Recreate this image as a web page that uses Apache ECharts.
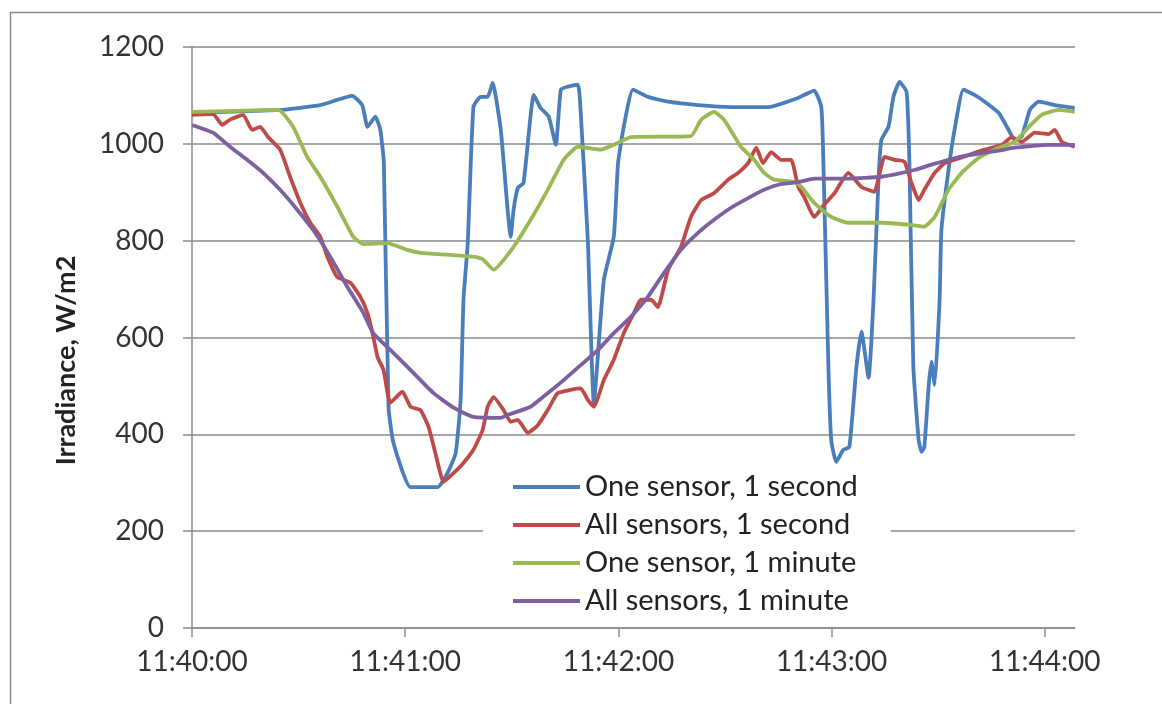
<!DOCTYPE html>
<html>
<head>
<meta charset="utf-8">
<script src="https://cdn.jsdelivr.net/npm/echarts@6/dist/echarts.min.js"></script>
<style>
html,body{margin:0;padding:0;background:#fff;}
#main{width:1162px;height:704px;}
</style>
</head>
<body>
<div id="main"></div>
<script>
// seconds after 11:40:00, and irradiance values (W/m2)
var seriesNames = ['One sensor, 1 second', 'All sensors, 1 second', 'One sensor, 1 minute', 'All sensors, 1 minute'];
var xTicks = [0, 60, 120, 180, 240];
var xTickLabels = ['11:40:00', '11:41:00', '11:42:00', '11:43:00', '11:44:00'];

var oneSecT = [0,24.8,36.1,45.1,47.9,49.4,51.6,53.0,54.0,55.3,56.7,61.5,69.1,71.9,74.2,75.6,76.4,77.6,79.2,81.2,83.2,84.6,86.9,89.7,90.5,91.7,93.3,96.2,98.1,100.4,102.4,103.8,105.8,108.6,109.4,111.4,113.1,115.9,118.7,119.9,121.5,124.1,128.3,134.0,142.4,151.7,162.2,170.6,175.1,177.1,177.7,179.1,179.9,181.3,183.3,185.0,187.0,188.4,190.4,191.8,193.2,194.0,196.0,197.4,199.1,201.1,201.9,203.0,204.5,205.3,206.1,207.3,208.1,209.0,210.4,210.9,212.9,214.6,217.1,220.2,223.1,227.0,229.8,231.5,233.5,235.8,238.3,242.8,248.4];
var oneSecV = [1064,1070,1080,1099,1080,1035,1056,1029,960,457,382,291,291,320,361,471,678,795,1076,1097,1097,1126,1029,808,864,909,919,1101,1074,1056,998,1112,1118,1122,1064,800,465,719,808,960,1035,1112,1097,1087,1080,1076,1076,1095,1110,1076,960,540,388,343,368,374,540,612,517,678,926,1008,1035,1097,1128,1107,960,540,388,364,374,498,550,502,678,822,946,1029,1112,1101,1087,1064,1029,1008,1015,1070,1087,1080,1074];

var allSecT = [0,5.9,8.5,10.7,14.4,16.9,19.2,21.4,24.8,27.6,30.5,33.3,36.1,38.1,40.9,44.6,47.4,49.4,50.8,52.2,53.9,55.8,59.2,61.5,64.3,66.6,68.5,70.8,73.6,76.4,79.2,81.8,83.2,84.9,87.7,89.7,91.7,94.5,97.3,100.1,102.9,106.6,109.4,111.4,113.1,115.9,118.7,121.5,124.4,126.3,129.2,131.1,134.0,137.6,140.4,143.3,146.9,150.9,153.7,156.5,158.8,160.7,163.0,165.8,168.6,170.6,172.3,175.1,177.9,180.8,184.7,188.4,192.0,194.9,197.7,200.5,202.5,204.5,206.1,209.0,211.8,214.6,218.6,223.1,227.9,230.7,233.5,237.2,241.1,242.8,244.8,248.4];
var allSecV = [1060,1062,1039,1050,1060,1029,1035,1014,988,932,878,837,808,767,725,713,684,650,609,560,533,465,488,457,450,415,361,302,320,341,368,409,457,477,450,426,430,403,419,450,485,492,495,471,457,512,554,609,651,678,678,663,740,787,849,884,898,926,940,960,992,960,983,967,967,911,890,849,874,898,940,911,901,973,967,963,919,884,905,940,960,967,977,988,998,1014,1004,1023,1020,1029,1004,994];

var oneMinT = [0,24.3,28.5,32.4,36.1,40.9,45.4,48.2,55.0,60.6,64.3,71.9,79.2,81.8,84.9,90.5,95.3,100.1,104.6,108.6,115.1,119.9,123.5,140.4,143.3,146.9,149.7,154.5,158.2,161.0,163.8,169.5,171.5,175.1,179.9,184.7,194.0,201.6,206.1,209.0,212.9,216.6,221.4,227.0,231.5,235.5,239.1,243.9,248.4];
var oneMinV = [1066,1070,1035,973,932,870,808,793,795,781,775,771,767,762,740,787,843,905,967,994,988,1002,1014,1016,1050,1066,1050,994,967,940,926,921,911,878,849,837,837,833,829,849,905,940,971,992,1004,1035,1060,1070,1066];

var allMinT = [0,5.9,10.7,15.5,20.0,24.8,29.6,34.1,38.9,43.7,48.2,51.0,56.7,62.3,68.0,73.6,79.2,86.9,88.8,95.3,100.1,104.6,109.4,114.2,118.7,123.5,128.3,132.8,137.6,142.4,146.9,151.7,156.5,161.0,165.8,170.6,175.1,184.7,194.0,203.3,208.1,212.9,217.4,222.2,227.0,231.5,241.1,248.4];
var allMinV = [1039,1023,994,967,940,905,864,822,767,705,651,609,568,527,485,455,436,434,440,457,485,512,543,574,609,643,684,733,781,816,843,868,888,905,917,921,928,928,932,946,957,967,975,981,986,992,998,998];

var colors = ['#4a7ebb', '#be4b48', '#98b954', '#7d60a0'];

function pairs(t, v) {
    var out = [];
    for (var i = 0; i < t.length; i++) {
        out.push([t[i], v[i]]);
    }
    return out;
}

var allData = [pairs(oneSecT, oneSecV), pairs(allSecT, allSecV), pairs(oneMinT, oneMinV), pairs(allMinT, allMinV)];

var series = [];
for (var i = 0; i < seriesNames.length; i++) {
    series.push({
        name: seriesNames[i],
        type: 'line',
        data: allData[i],
        showSymbol: false,
        smooth: 0.15,
        lineStyle: { width: 3.8, color: colors[i] },
        itemStyle: { color: colors[i] }
    });
}

var myChart = echarts.init(document.getElementById('main'));
var option = {
    animation: false,
    backgroundColor: '#fff',
    textStyle: { fontFamily: 'Lato' },
    graphic: [{
        type: 'rect',
        left: 8,
        top: 10,
        shape: { width: 1180, height: 720 },
        style: { fill: 'none', stroke: '#8a8a8a', lineWidth: 1.5 },
        silent: true
    }],
    grid: { left: 192, right: 87, top: 47, bottom: 76 },
    legend: {
        orient: 'vertical',
        left: 483,
        top: 464,
        padding: [8, 33, 8, 30],
        backgroundColor: '#fff',
        icon: 'rect',
        itemWidth: 67,
        itemHeight: 4,
        itemGap: 8,
        textStyle: { fontFamily: 'Lato', fontSize: 29, lineHeight: 30, color: '#222' },
        data: seriesNames
    },
    xAxis: {
        type: 'value',
        min: 0,
        max: 248.5,
        interval: 60,
        axisLine: { lineStyle: { color: '#8a8a8a', width: 1.5 } },
        axisTick: { show: true, length: 9, customValues: xTicks, lineStyle: { color: '#8a8a8a', width: 1.5 } },
        splitLine: { show: false },
        axisLabel: {
            customValues: xTicks,
            margin: 20,
            fontFamily: 'Lato',
            fontSize: 28,
            color: '#333',
            formatter: function (val) {
                var idx = xTicks.indexOf(val);
                return idx >= 0 ? xTickLabels[idx] : '';
            }
        }
    },
    yAxis: {
        type: 'value',
        min: 0,
        max: 1200,
        interval: 200,
        name: 'Irradiance, W/m2',
        nameLocation: 'middle',
        nameGap: 112,
        nameTextStyle: { fontFamily: 'Lato', fontWeight: 'bold', fontSize: 27, color: '#222', padding: [0, 46, 0, 0] },
        axisLine: { show: true, lineStyle: { color: '#8a8a8a', width: 1.5 } },
        axisTick: { show: true, length: 9, lineStyle: { color: '#8a8a8a', width: 1.5 } },
        splitLine: { show: true, lineStyle: { color: '#8a8a8a', width: 1.5 } },
        axisLabel: {
            margin: 28,
            fontFamily: 'Lato',
            fontSize: 28,
            color: '#333',
            formatter: function (val) { return String(val); }
        }
    },
    series: series
};
myChart.setOption(option);
</script>
</body>
</html>
